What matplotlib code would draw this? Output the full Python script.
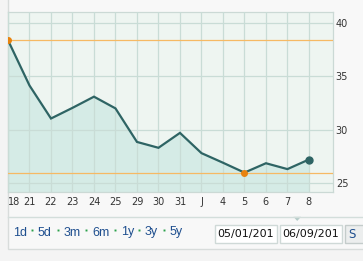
import matplotlib
matplotlib.use("Agg")
import matplotlib.pyplot as plt
from matplotlib.patches import Rectangle, Polygon

day_labels = ["18", "21", "22", "23", "24", "25", "29", "30", "31", "J",
              "4", "5", "6", "7", "8"]
prices = [38.4, 34.15, 31.05, 32.05, 33.1, 32.0, 28.85, 28.3, 29.7, 27.8,
          26.9, 25.97, 26.85, 26.3, 27.2]
y_ticks = [25, 30, 35, 40]
ranges = ["1d", "5d", "3m", "6m", "1y", "3y", "5y"]
range_x = [13, 38, 64, 92, 121, 145, 170]
date_from = "05/01/201"
date_to = "06/09/201"

W, H = 363, 261
LINE = "#2e6464"
FILL = "#d5ebe6"
PLOT_BG = "#eef5f1"
GRID = "#c9dcd6"
ORANGE = "#f6b964"
ORANGE_DOT = "#e8830f"
LINK = "#1f4f8f"

fig = plt.figure(figsize=(W / 100, H / 100), dpi=100)
fig.patch.set_facecolor("#f4f4f4")

# background layer in pixel coordinates
bg = fig.add_axes([0, 0, 1, 1], zorder=0)
bg.set_xlim(0, W)
bg.set_ylim(H, 0)
bg.axis("off")
bg.add_patch(Rectangle((7.5, -2), W, 250.5, facecolor="#f8f8f8",
                       edgecolor="#d8dcdb", linewidth=1))
bg.plot([7.5, W], [216.7, 216.7], color="#d3dedb", linewidth=1)
bg.add_patch(Polygon([[293.5, 216.8], [301, 216.8], [297.2, 221]],
                     closed=True, facecolor="#b4cbc8", edgecolor="none"))

for lbl, x in zip(ranges, range_x):
    bg.text(x, 232.5, lbl, fontsize=9, color=LINK, ha="left", va="center",
            family="Liberation Sans")
for x in range_x[1:]:
    bg.plot(x - 6, 230, marker="s", markersize=1.4, color="#2aa04a",
            markeredgewidth=0)

for x0, x1, txt in [(215, 276.5, date_from), (280, 341.5, date_to)]:
    bg.add_patch(Rectangle((x0, 225), x1 - x0, 17.5, facecolor="white",
                           edgecolor="#cfd9d7", linewidth=1))
    bg.text(x0 + 2.5, 234, txt, fontsize=8, color="#111111", ha="left",
            va="center", family="DejaVu Sans")
bg.add_patch(Rectangle((345, 224.5), 30, 18.5, facecolor="#eceeee",
                       edgecolor="#c4cccb", linewidth=1))
bg.text(348, 234, "S", fontsize=8.5, color=LINK, ha="left", va="center")

# chart
left, right, top, bottom = 8, 333, 12, 192
ax = fig.add_axes([left / W, (H - bottom) / H, (right - left) / W,
                   (bottom - top) / H], zorder=1)
ax.set_facecolor(PLOT_BG)
xs = list(range(len(prices)))
ymin, ymax = 24.15, 41.05
ax.set_xlim(0, 15.12)
ax.set_ylim(ymin, ymax)

ax.fill_between(xs, prices, ymin, color=FILL, linewidth=0, zorder=1)
ax.set_xticks(xs)
ax.set_yticks(y_ticks)
ax.grid(True, color=GRID, linewidth=0.9, zorder=2)
ax.set_axisbelow(False)

hi, lo = max(prices), min(prices)
ax.axhline(hi, color=ORANGE, linewidth=0.9, zorder=3)
ax.axhline(lo, color=ORANGE, linewidth=0.9, zorder=3)
ax.plot(xs, prices, color=LINE, linewidth=1.6, zorder=4,
        solid_joinstyle="miter")
ax.plot(prices.index(hi), hi, "o", color=ORANGE_DOT, markersize=4, zorder=5)
ax.plot(prices.index(lo), lo, "o", color=ORANGE_DOT, markersize=4, zorder=5)
ax.plot(xs[-1], prices[-1], "o", color=LINE, markersize=5, zorder=5)

ax.set_xticklabels(day_labels)
ax.yaxis.tick_right()
ax.tick_params(axis="both", length=0, labelsize=7, labelcolor="#333333")
ax.tick_params(axis="x", pad=3.5)
ax.tick_params(axis="y", pad=2)
first = ax.get_xticklabels()[0]
first.set_ha("left")
for s in ax.spines.values():
    s.set_color("#cbd9d5")
    s.set_linewidth(0.9)

fig.savefig("out.png", dpi=100, facecolor=fig.get_facecolor())
